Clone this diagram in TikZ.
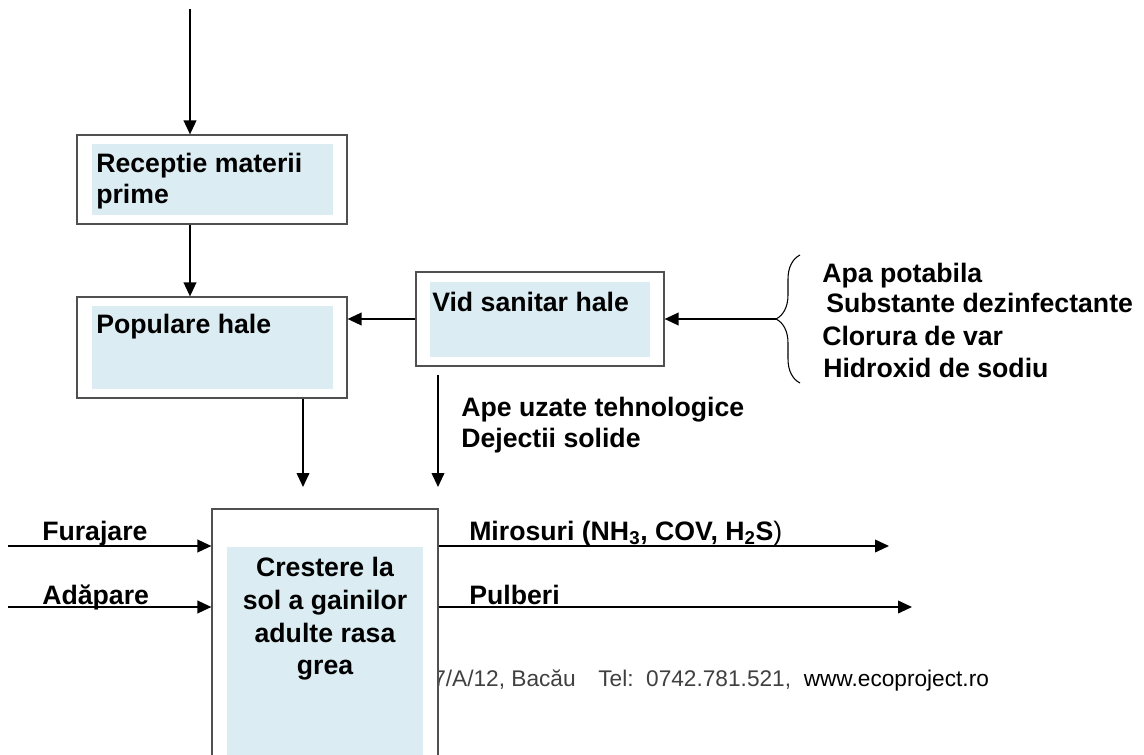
\documentclass[tikz,border=0pt]{standalone}
\usepackage{fontspec}
\setmainfont{Liberation Sans}
\usetikzlibrary{positioning}
\usetikzlibrary{arrows.meta}
\usetikzlibrary{decorations.pathreplacing}

\definecolor{paleblue}{RGB}{219,237,243}
\definecolor{framegray}{RGB}{80,80,80}
\definecolor{footgray}{RGB}{64,64,64}

\begin{document}
\begin{tikzpicture}
        [x=0.75pt, y=-0.75pt,
         outer/.style={draw=framegray, line width=0.9pt, fill=white, inner sep=0pt},
         inner/.style={fill=paleblue, inner sep=0pt},
         lbl/.style={font=\bfseries\fontsize{20}{23.5}\selectfont, inner sep=0pt, align=left},
         flow/.style={line width=1.3pt, -{Triangle[length=10.5pt,width=9.5pt]}}]
      \clip (0,0) rectangle (1144,755);
      % footer, half hidden by the last box
      \node[anchor=west, inner sep=0pt, font=\fontsize{17}{20}\selectfont, text=footgray] (foot) at (433,680)
            {7/A/12, Bacău\quad Tel:\ \ 0742.781.521,\ \ \textcolor{black}{www.ecoproject.ro}};
      % boxes
      \node[outer, minimum width=202.5pt, minimum height=66.75pt] (rec) at (212,179.5) {};
      \node[inner, minimum width=180.75pt, minimum height=53.25pt] (recin) at (212.5,179.5) {};
      \node[lbl, anchor=west] at (96,181) {Receptie materii\\prime};
      \node[outer, minimum width=202.5pt, minimum height=75.75pt] (pop) at (212,347.5) {};
      \node[inner, minimum width=180.75pt, minimum height=62.25pt] (popin) at (212.5,347.5) {};
      \node[lbl, anchor=base west] at (96,333) {Populare hale};
      \node[outer, minimum width=186pt, minimum height=70.5pt] (vid) at (540,319) {};
      \node[inner, minimum width=165pt, minimum height=56.25pt] (vidin) at (540,319.5) {};
      \node[lbl, anchor=base west] at (432,311) {Vid sanitar hale};
      \node[outer, minimum width=169.5pt, minimum height=219pt] (cre) at (325,655) {};
      \node[inner, minimum width=147pt, minimum height=189.75pt] (crein) at (325,673.5) {};
      \node[lbl, align=center, font=\bfseries\fontsize{20}{24.5}\selectfont] at (325,619) {Crestere la\\sol a gainilor\\adulte rasa\\grea};
      % inputs on the right
      \draw[line width=0.8pt, decorate, decoration={brace, amplitude=18pt}] (800,383) -- (800,255);
      \coordinate (bracetip) at (776,319);
      \node[lbl, anchor=base west] at (822,282) {Apa potabila};
      \node[lbl, anchor=base west] at (826,312) {Substante dezinfectante};
      \node[lbl, anchor=base west] at (822,345) {Clorura de var};
      \node[lbl, anchor=base west] at (823,377) {Hidroxid de sodiu};
      % flows
      \coordinate (src) at (190,9);
      \coordinate (d1) at (303,487);
      \coordinate (d2) at (438,487);
      \coordinate (fin) at (8,546);
      \coordinate (ain) at (8,607);
      \coordinate (mout) at (889,546);
      \coordinate (pout) at (912,607);
      \draw[flow] (src) -- (src |- rec.north);
      \draw[flow] (rec.south -| src) -- (src |- pop.north);
      \draw[flow] (bracetip) -- (bracetip -| vid.east);
      \draw[flow] (vid.west |- bracetip) -- (pop.east |- bracetip);
      \draw[flow] (pop.south -| d1) -- (d1);
      \draw[flow, shorten <=6pt] (vid.south -| d2) -- (d2);
      \draw[flow] (fin) -- (fin -| cre.west);
      \draw[flow] (ain) -- (ain -| cre.west);
      \draw[flow] (cre.east |- mout) -- (mout);
      \draw[flow] (cre.east |- pout) -- (pout);
      % flow labels
      \node[lbl, anchor=west] at (461,425) {Ape uzate tehnologice\\Dejectii solide};
      \node[lbl, anchor=base west] at (42,540) {Furajare};
      \node[lbl, anchor=base west] at (42,604) {Adăpare};
      \node[lbl, anchor=base west] at (469,540) {Mirosuri (NH\textsubscript{3}, COV, H\textsubscript{2}S\mdseries)};
      \node[lbl, anchor=base west] at (469,604) {Pulberi};
\end{tikzpicture}
\end{document}
